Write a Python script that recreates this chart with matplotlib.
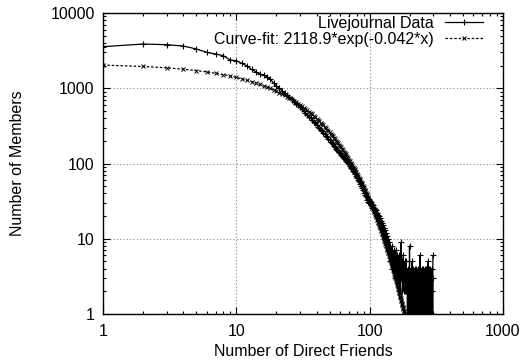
import numpy as np
import matplotlib
matplotlib.use("Agg")
import matplotlib.pyplot as plt
from matplotlib.ticker import LogLocator, NullFormatter

plt.rcParams['font.family'] = ['Liberation Sans', 'DejaVu Sans']

# Number of members having x direct friends, x = 1, 2, 3, ...
counts = [
    3570, 3870, 3790, 3640, 3330, 3000, 2850, 2700, 2370, 2320,
    2140, 1990, 1780, 1660, 1540, 1500, 1420, 1310, 1180, 1070,
    1000, 930, 870, 810, 760, 710, 665, 625, 590, 555,
    525, 495, 470, 445, 420, 398, 380, 360, 342, 325,
    310, 296, 280, 268, 255, 246, 232, 224, 212, 205,
    196, 186, 180, 171, 165, 158, 152, 146, 141, 136,
    131, 127, 122, 118, 114, 112, 107, 104, 101, 98,
    93, 91, 86, 84, 80, 78, 74, 72, 68, 66,
    64, 61, 58, 56, 54, 51, 50, 47, 45, 44,
    41, 40, 38, 37, 36, 33, 34, 31, 30, 32,
    30, 31, 28, 29, 26, 28, 25, 26, 23, 25,
    22, 24, 20, 22, 19, 21, 18, 20, 16, 19,
    16, 17, 14, 16, 13, 15, 12, 14, 11, 13,
    10, 12, 9, 11, 9, 10, 8, 10, 7, 9,
    7, 5, 8, 6, 7, 4, 6, 8, 5, 6,
    4, 7, 5, 3, 6, 5, 7, 4, 5, 3,
    6, 4, 5, 3, 6, 4, 3, 5, 2, 6,
    3, 9, 4, 3, 5, 2, 4, 3, 6, 2,
    4, 3, 5, 2, 4, 3, 2, 5, 3, 2,
    3, 1, 4, 2, 1, 3, 2, 1, 8, 1,
    3, 2, 4, 1, 3, 1, 2, 5, 1, 3,
    2, 1, 4, 1, 2, 3, 1, 4, 2, 1,
    3, 1, 2, 4, 1, 2, 1, 3, 1, 4,
    1, 2, 3, 1, 2, 1, 4, 1, 6, 1,
    2, 3, 1, 2, 1, 4, 1, 2, 1, 3,
    1, 4, 1, 2, 1, 3, 1, 1, 4, 1,
    2, 1, 3, 1, 4, 1, 2, 1, 3, 1,
    2, 4, 1, 5, 1, 2, 1, 3, 1, 4,
    1, 2, 1, 4, 1, 3, 1, 2, 1, 3,
    1, 4, 1, 2, 1, 3, 1, 6,
]
friends = np.arange(1, len(counts) + 1)

# Curve-fit parameters as given in the legend
fit_a = 2118.9
fit_b = -0.042
fit_values = fit_a * np.exp(fit_b * friends)

data_label = 'Livejournal Data'
fit_label = 'Curve-fit: 2118.9*exp(-0.042*x)'
x_ticks = [1, 10, 100, 1000]
x_tick_labels = ['1', '10', '100', '1000']
y_ticks = [1, 10, 100, 1000, 10000]
y_tick_labels = ['1', '10', '100', '1000', '10000']

FS = 11.5

fig = plt.figure(figsize=(5.23, 3.64), dpi=100)
ax = fig.add_axes([103 / 523, 1 - 314 / 364, 400 / 523, 301 / 364])

ax.plot(friends, counts, color='black', lw=0.9, marker='+', ms=5, mew=0.8,
        label=data_label, zorder=3)
ax.plot(friends, fit_values, color='black', lw=0.9, ls=(0, (2, 1.5)),
        marker='x', ms=3.5, mew=0.7, label=fit_label, zorder=3)

ax.set_xscale('log')
ax.set_yscale('log')
ax.set_xlim(1, 1000)
ax.set_ylim(1, 10000)

ax.set_xticks(x_ticks, labels=x_tick_labels)
ax.set_yticks(y_ticks, labels=y_tick_labels)
ax.xaxis.set_minor_locator(LogLocator(base=10, subs=range(2, 10), numticks=20))
ax.yaxis.set_minor_locator(LogLocator(base=10, subs=range(2, 10), numticks=20))
ax.xaxis.set_minor_formatter(NullFormatter())
ax.yaxis.set_minor_formatter(NullFormatter())
ax.tick_params(which='both', direction='in', top=True, right=True, width=0.8)
ax.tick_params(which='major', length=5, labelsize=FS, pad=7)
ax.tick_params(which='minor', length=2.5)
ax.tick_params(axis='y', pad=6)

ax.grid(True, which='major', ls=(0, (1, 2)), color='#888888', lw=0.8)
for s in ax.spines.values():
    s.set_linewidth(1.0)

ax.set_xlabel('Number of Direct Friends', fontsize=FS)
ax.set_ylabel('Number of Members', fontsize=FS)
ax.xaxis.set_label_coords(0.5, (314 - 344) / 301)
ax.yaxis.set_label_coords((25 - 103) / 400, 0.5)

leg = ax.legend(loc='upper right', bbox_to_anchor=(0.95, 0.99), frameon=False,
                markerfirst=False, fontsize=FS, numpoints=1, handlelength=2.4,
                handletextpad=0.7, labelspacing=0.05, borderpad=0, borderaxespad=0)

fig.savefig('out.png', dpi=100)
